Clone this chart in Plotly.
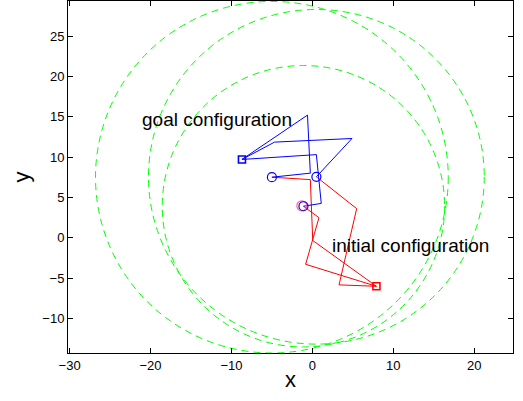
import plotly.graph_objects as go

# Three arm bases (joint 0 of each arm)
base_x = [-1.1, -5.0, 0.5]
base_y = [3.9, 7.5, 7.55]
# Workspace circle radii (one per arm, centred on its base)
reach_r = [17.45, 21.8, 20.75]

# Goal configuration (blue): joints of each arm, ending at shared end effector
goal_arms_x = [[-1.1, 1.1, 0.5, -8.7],
               [-5.0, -0.25, -0.6, -8.7],
               [0.5, 4.9, -4.67, -8.7]]
goal_arms_y = [[3.9, 4.25, 10.3, 9.7],
               [7.5, 8.0, 15.2, 9.7],
               [7.55, 12.3, 11.85, 9.7]]

# Initial configuration (red)
init_arms_x = [[-1.1, 0.82, -0.83, 7.92],
               [-5.0, -0.25, 0.05, 7.92],
               [0.5, 5.48, 3.3, 7.92]]
init_arms_y = [[3.9, 2.48, -3.3, -6.03],
               [7.5, 7.2, -0.35, -6.03],
               [7.55, 3.6, -5.85, -6.03]]

goal_ee = (-8.7, 9.7)
init_ee = (7.92, -6.03)
green_marker = (-1.3, 3.95)

labels = ["goal configuration", "initial configuration"]
label_x = [-21.3, 2.14]
label_y = [14.6, -0.95]

x_ticks = [-30, -20, -10, 0, 10, 20]
y_ticks = [-10, -5, 0, 5, 10, 15, 20, 25]

fig = go.Figure()

shapes = []
for cx, cy, r in zip(base_x, base_y, reach_r):
    shapes.append(dict(type="circle", xref="x", yref="y",
                       x0=cx - r, x1=cx + r, y0=cy - r, y1=cy + r,
                       line=dict(color="#00ff00", width=1, dash="7px,5px"),
                       layer="below"))

for xs, ys in zip(init_arms_x, init_arms_y):
    fig.add_trace(go.Scatter(x=xs, y=ys, mode="lines",
                             line=dict(color="#ff0000", width=1), showlegend=False))
for xs, ys in zip(goal_arms_x, goal_arms_y):
    fig.add_trace(go.Scatter(x=xs, y=ys, mode="lines",
                             line=dict(color="#0000ff", width=1), showlegend=False))

fig.add_trace(go.Scatter(x=[green_marker[0]], y=[green_marker[1]], mode="markers",
                         marker=dict(symbol="circle-open", size=10,
                                     line=dict(color="#00ff00", width=1.2)),
                         showlegend=False))
fig.add_trace(go.Scatter(x=base_x, y=base_y, mode="markers",
                         marker=dict(symbol="circle-open", size=9, color="#0000ff",
                                     line=dict(color="#0000ff", width=1.2)),
                         showlegend=False))
fig.add_trace(go.Scatter(x=[goal_ee[0]], y=[goal_ee[1]], mode="markers",
                         marker=dict(symbol="square-open", size=7, color="#0000ff",
                                     line=dict(color="#0000ff", width=1.6)),
                         showlegend=False))
fig.add_trace(go.Scatter(x=[init_ee[0]], y=[init_ee[1]], mode="markers",
                         marker=dict(symbol="square-open", size=7, color="#ff0000",
                                     line=dict(color="#ff0000", width=1.6)),
                         showlegend=False))

annotations = []
for t, x, y in zip(labels, label_x, label_y):
    annotations.append(dict(text=t, x=x, y=y, xref="x", yref="y",
                            xanchor="left", yanchor="middle", showarrow=False,
                            font=dict(size=19, color="black")))

axis_common = dict(showline=True, linecolor="black", linewidth=1, mirror="ticks",
                   ticks="inside", ticklen=5, tickcolor="black", tickwidth=1,
                   showgrid=False, zeroline=False,
                   tickfont=dict(size=13, color="black"))

fig.update_layout(
    width=523, height=401,
    margin=dict(l=68, r=10, t=1, b=48),
    paper_bgcolor="white", plot_bgcolor="white",
    font=dict(family="Liberation Sans, Arial, sans-serif", color="black"),
    shapes=shapes, annotations=annotations,
    xaxis=dict(range=[-30.2, 24.8], tickvals=x_ticks,
               title=dict(text="x", font=dict(size=22), standoff=0),
               **axis_common),
    yaxis=dict(range=[-14.3, 29.35], tickvals=y_ticks,
               title=dict(text="y", font=dict(size=22), standoff=6),
               **axis_common),
)

fig.write_html("out.html")
